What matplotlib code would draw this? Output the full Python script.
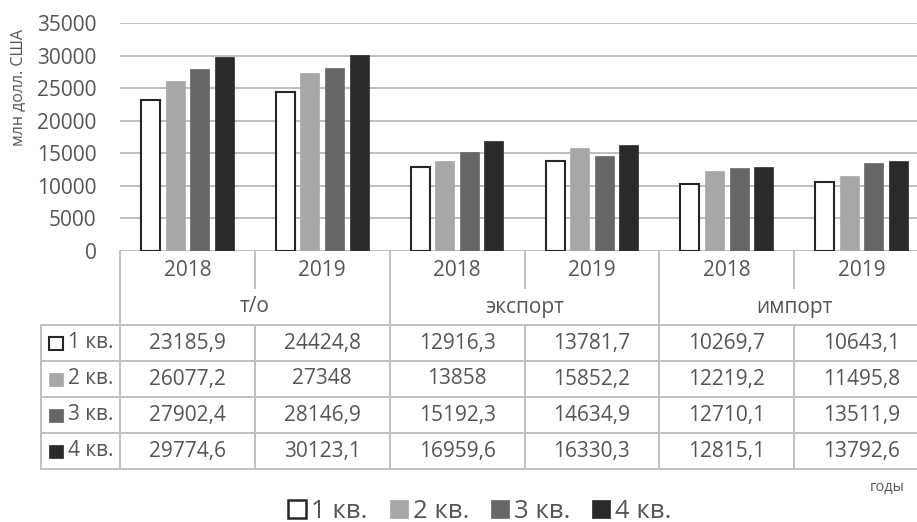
import matplotlib.pyplot as plt
import matplotlib.transforms as mtransforms
from matplotlib.lines import Line2D
from matplotlib.patches import Patch, Rectangle
import numpy as np

plt.rcParams['font.family'] = ['Open Sans', 'DejaVu Sans']

################################################################################
# Data
groups = ['т/о', 'экспорт', 'импорт']
years = ['2018', '2019']
quarters = ['1 кв.', '2 кв.', '3 кв.', '4 кв.']
q1 = [23185.9, 24424.8, 12916.3, 13781.7, 10269.7, 10643.1]
q2 = [26077.2, 27348, 13858, 15852.2, 12219.2, 11495.8]
q3 = [27902.4, 28146.9, 15192.3, 14634.9, 12710.1, 13511.9]
q4 = [29774.6, 30123.1, 16959.6, 16330.3, 12815.1, 13792.6]
series = [q1, q2, q3, q4]

fills = ['white', '#A5A7A9', '#656668', '#2B2A2A']
edges = ['#262626', '#A5A7A9', '#656668', '#2B2A2A']
txt = '#555555'
grid = '#BFBFBF'

W, H = 917, 522
def fx(x):
    return x / W
def fy(y):
    return 1 - y / H

def fmt(v):
    if float(v).is_integer():
        return str(int(v))
    return f'{v:.1f}'.replace('.', ',')

################################################################################
# Figure
fig = plt.figure(figsize=(W / 100, H / 100), dpi=100)
x0, x1, y0, y1 = 120, 929, 250.7, 23.3
ax = fig.add_axes([fx(x0), fy(y0), (x1 - x0) / W, (y0 - y1) / H])
ax.set_xlim(0, 6)
ax.set_ylim(0, 35000)
for s in ax.spines.values():
    s.set_visible(False)
ax.set_xticks([])
ax.set_yticks(np.arange(0, 35001, 5000))
ax.tick_params(axis='y', length=0, pad=17, labelsize=15, labelcolor=txt)
ax.yaxis.grid(True, color=grid, lw=1.4)
ax.set_axisbelow(True)

ncat = len(q1)
centers = np.arange(ncat) + 0.5
bw = 0.141
step = 0.182
for i, vals in enumerate(series):
    ax.bar(centers + (i - 1.5) * step, vals, width=bw, color=fills[i],
           edgecolor=edges[i], linewidth=1.5 if i == 0 else 0.5, zorder=3)

fig.text(fx(18), fy(88), 'млн долл. США', rotation=90, ha='center', va='center',
         fontsize=11.5, color=txt)

################################################################################
# Data table under the axis
bt = mtransforms.blended_transform_factory(ax.transData, fig.transFigure)

def vline(x, ya, yb):
    fig.add_artist(Line2D([x, x], [fy(ya), fy(yb)], transform=bt, color=grid, lw=1.4))

def hline(y):
    fig.add_artist(Line2D([fx(41), 1], [fy(y), fy(y)], transform=fig.transFigure,
                          color=grid, lw=1.4))

top_hdr, mid_hdr, tbl_top = 250.7, 288, 325
row_h = 36
tbl_bot = tbl_top + row_h * len(series)

for k in range(ncat + 1):
    if k % 2 == 0:
        vline(k, top_hdr, tbl_bot)
    else:
        vline(k, top_hdr, mid_hdr)
        vline(k, tbl_top, tbl_bot)
for r in range(len(series) + 1):
    hline(tbl_top + r * row_h)
fig.add_artist(Line2D([fx(41), fx(41)], [fy(tbl_top), fy(tbl_bot)],
                      transform=fig.transFigure, color=grid, lw=1.4))

for k in range(ncat):
    fig.text(k + 0.5, fy(270), years[k % 2], transform=bt, ha='center', va='center',
             fontsize=15, color=txt)
for g, name in enumerate(groups):
    fig.text(2 * g + 1, fy(307), name, transform=bt, ha='center', va='center',
             fontsize=15, color=txt)

for r, vals in enumerate(series):
    yc = tbl_top + row_h * r + row_h / 2
    fig.add_artist(Rectangle((fx(49), fy(yc + 6.5)), 13.5 / W, 13 / H,
                             transform=fig.transFigure, facecolor=fills[r],
                             edgecolor=edges[r], lw=1.5 if r == 0 else 0.5))
    fig.text(fx(68.5), fy(yc), quarters[r], ha='left', va='center', fontsize=15, color=txt)
    for k, v in enumerate(vals):
        fig.text(k + 0.5, fy(yc), fmt(v), transform=bt, ha='center', va='center',
                 fontsize=15, color=txt)

fig.text(fx(905), fy(487), 'годы', ha='right', va='center', fontsize=10.5, color=txt)

################################################################################
# Legend
handles = [Patch(facecolor=fills[i], edgecolor=edges[i], lw=1.8 if i == 0 else 0.5)
           for i in range(4)]
leg = fig.legend(handles, quarters, loc='center', bbox_to_anchor=(fx(480), fy(511)),
                 ncol=4, frameon=False, fontsize=18.5, handlelength=0.7, handleheight=0.7,
                 handletextpad=0.2, columnspacing=0.85, borderpad=0)
for t in leg.get_texts():
    t.set_color(txt)

plt.savefig('out.png', dpi=100)
